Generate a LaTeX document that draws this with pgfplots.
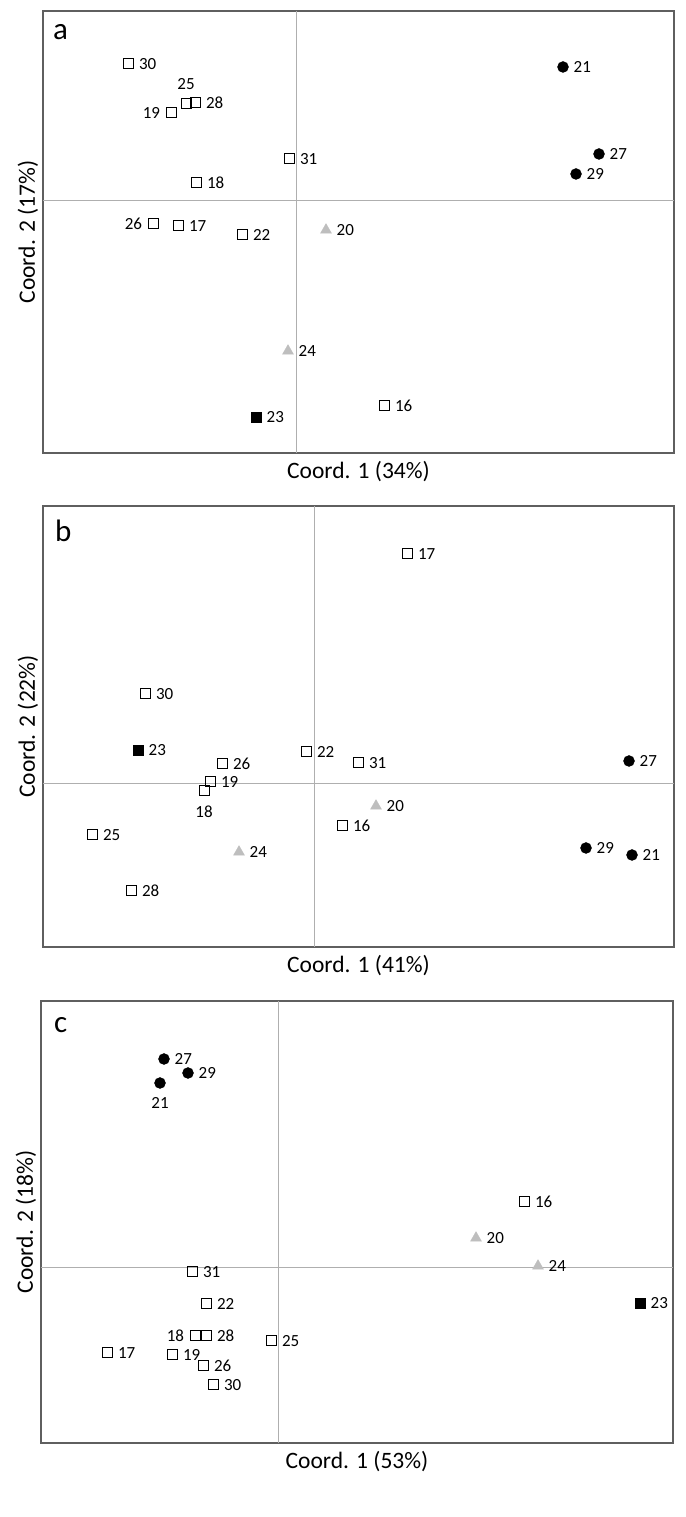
\documentclass[border=0pt]{standalone}
\usepackage{fontspec}
\setmainfont{Carlito}
\usepackage{pgfplots}
\pgfplotsset{compat=1.18}
\definecolor{boxc}{RGB}{95,95,95}
\definecolor{crossc}{RGB}{175,175,175}
\definecolor{trig}{RGB}{190,190,190}
\newcommand{\lblfont}{\fontsize{17}{20}\selectfont}
\newcommand{\axfont}{\fontsize{23.5}{26}\selectfont}
\newcommand{\letfont}{\fontsize{31}{34}\selectfont}
\pgfplotsset{
  pan/.style={scale only axis, xtick=\empty, ytick=\empty, clip=false,
    axis line style={draw=boxc, line width=1.2pt},
    xlabel style={font=\axfont, at={(axis description cs:0.5,-0.043)}, anchor=center},
    ylabel style={font=\axfont, at={(axis description cs:-0.0238,0.5)}, anchor=center}},
  lbl/.style={nodes near coords, point meta=explicit symbolic,
    visualization depends on={value \thisrow{pos}\as\lpos},
    every node near coord/.append style={anchor=\lpos, font=\lblfont, inner xsep=10.5pt, inner ysep=14pt, text=black}},
  osq/.style={only marks, mark=square, mark size=5pt, mark options={draw=black, fill=white, line width=1pt}, lbl},
  bsq/.style={only marks, mark=square*, mark size=5pt, mark options={draw=black, fill=black}, lbl},
  bci/.style={only marks, mark=*, mark size=5.5pt, mark options={draw=black, fill=black}, lbl},
  gtr/.style={only marks, mark=triangle*, mark size=6.3pt, mark options={draw=trig, fill=trig}, lbl},
  cross/.style={crossc, line width=0.9pt, no marks},
}
\begin{document}
\begin{tikzpicture}
\useasboundingbox (0,0) rectangle (685pt,1517pt);
% ---------------- panel a
\begin{axis}[pan, at={(43pt,1064pt)}, anchor=south west, width=631pt, height=442pt,
  xmin=-253, xmax=378, ymin=-253, ymax=189,
  xlabel={Coord. 1 (34\%)}, ylabel={Coord. 2 (17\%)}]
\addplot[cross] coordinates {(0,-253) (0,189)};
\addplot[cross] coordinates {(-253,0) (378,0)};
\addplot[osq] table[x=x, y=y, meta=lab] {
x y lab pos
-168 136 30 west
-110 96 25 south
-101 97 28 west
-125 87 19 east
-7 41 31 west
-100 17 18 west
-143 -24 26 east
-118 -26 17 west
-54 -35 22 west
88 -206 16 west
};
\addplot[gtr] table[x=x, y=y, meta=lab] {
x y lab pos
30 -30 20 west
-8 -151 24 west
};
\addplot[bsq] table[x=x, y=y, meta=lab] {
x y lab pos
-40 -217 23 west
};
\addplot[bci] table[x=x, y=y, meta=lab] {
x y lab pos
267 133 21 west
303 46 27 west
280 26 29 west
};
\node[anchor=base west, font=\letfont, inner sep=0] at (axis cs:-243,160) {a};
\end{axis}
% ---------------- panel b
\begin{axis}[pan, at={(43pt,570pt)}, anchor=south west, width=631pt, height=441pt,
  xmin=-271, xmax=360, ymin=-164, ymax=277,
  xlabel={Coord. 1 (41\%)}, ylabel={Coord. 2 (22\%)}]
\addplot[cross] coordinates {(0,-164) (0,277)};
\addplot[cross] coordinates {(-271,0) (360,0)};
\addplot[osq] table[x=x, y=y, meta=lab] {
x y lab pos
93 229 17 west
-169 89 30 west
-92 19 26 west
-104 1 19 west
-110 -8 18 north
-8 31 22 west
44 20 31 west
28 -43 16 west
-222 -52 25 west
-183 -108 28 west
};
\addplot[gtr] table[x=x, y=y, meta=lab] {
x y lab pos
62 -23 20 west
-75 -69 24 west
};
\addplot[bsq] table[x=x, y=y, meta=lab] {
x y lab pos
-176 33 23 west
};
\addplot[bci] table[x=x, y=y, meta=lab] {
x y lab pos
315 22 27 west
272 -65 29 west
318 -72 21 west
};
\node[anchor=base west, font=\letfont, inner sep=0] at (axis cs:-259,241) {b};
\end{axis}
% ---------------- panel c
\begin{axis}[pan, at={(41pt,74pt)}, anchor=south west, width=632pt, height=442pt,
  xmin=-237, xmax=395, ymin=-176, ymax=266,
  xlabel={Coord. 1 (53\%)}, ylabel={Coord. 2 (18\%)}]
\addplot[cross] coordinates {(0,-176) (0,266)};
\addplot[cross] coordinates {(-237,0) (395,0)};
\addplot[osq] table[x=x, y=y, meta=lab] {
x y lab pos
246 65 16 west
-86 -5 31 west
-72 -37 22 west
-83 -69 18 east
-72 -69 28 west
-7 -74 25 west
-171 -86 17 west
-106 -88 19 west
-75 -99 26 west
-65 -118 30 west
};
\addplot[gtr] table[x=x, y=y, meta=lab] {
x y lab pos
198 29 20 west
260 1 24 west
};
\addplot[bsq] table[x=x, y=y, meta=lab] {
x y lab pos
362 -36 23 west
};
\addplot[bci] table[x=x, y=y, meta=lab] {
x y lab pos
-114 208 27 west
-90 194 29 west
-118 184 21 north
};
\node[anchor=base west, font=\letfont, inner sep=0] at (axis cs:-224,234) {c};
\end{axis}
\end{tikzpicture}
\end{document}
